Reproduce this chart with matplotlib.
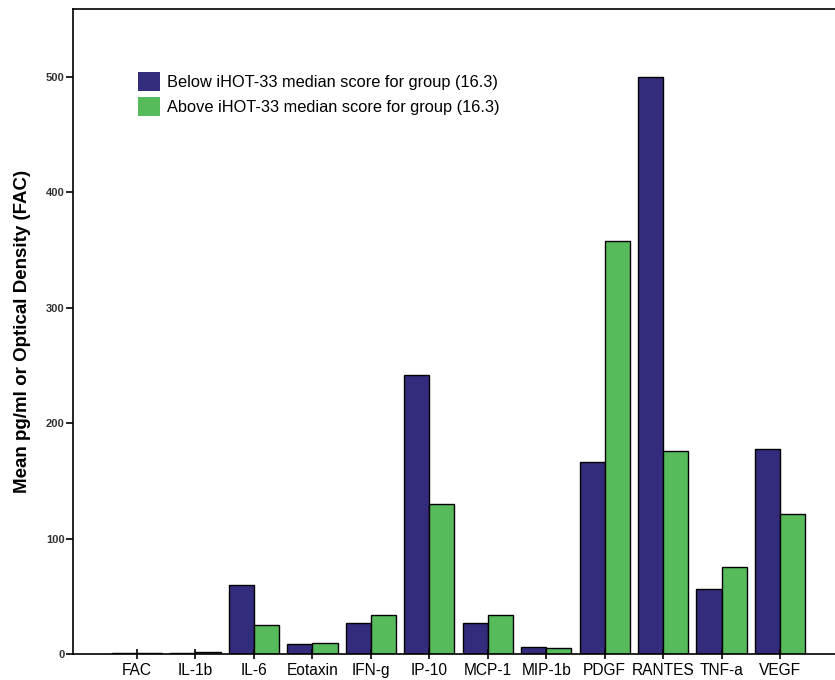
import numpy as np
from matplotlib import pyplot as plt

categories = ["FAC", "IL-1b", "IL-6", "Eotaxin", "IFN-g", "IP-10", "MCP-1",
              "MIP-1b", "PDGF", "RANTES", "TNF-a", "VEGF"]
below_median = [1.0, 1.0, 60, 8.5, 27, 242, 26.5, 6.5, 166, 500, 56, 178]
above_median = [1.0, 1.5, 25, 9.5, 34, 130, 34, 5, 358, 176, 75, 121]
labels = ["Below iHOT-33 median score for group (16.3)",
          "Above iHOT-33 median score for group (16.3)"]

plt.rcParams['font.family'] = ['Liberation Sans', 'DejaVu Sans']

fig = plt.figure(figsize=(8.35, 6.8), dpi=100)
ax = fig.add_axes([73 / 835, 26 / 680, 1 - 73 / 835, 645 / 680])

x = np.arange(len(categories))
w = 0.43
ax.bar(x - w / 2, below_median, w, color="#332c7c", edgecolor="black", linewidth=1, label=labels[0])
ax.bar(x + w / 2, above_median, w, color="#57bb5c", edgecolor="black", linewidth=1, label=labels[1])

ax.set_xlim(-1.095, 11.94)
ax.set_ylim(0, 559)
ax.set_xticks(x)
ax.set_xticklabels(categories, fontsize=11.2)
ax.set_yticks([0, 100, 200, 300, 400, 500])
ax.set_yticklabels(["0", "100", "200", "300", "400", "500"], fontsize=8, fontweight="bold", color="#333333")
ax.tick_params(axis="x", length=7, width=1.2, direction="inout", pad=3)
ax.tick_params(axis="y", length=5, width=1.2, pad=1)
for s in ["left", "bottom", "top"]:
    ax.spines[s].set_linewidth(1.2)
ax.spines["right"].set_visible(False)

ax.set_ylabel("Mean pg/ml or Optical Density (FAC)", fontsize=13.5, fontweight="bold", labelpad=11)

leg = ax.legend(loc="upper left", bbox_to_anchor=(0.0853, 0.902), frameon=False, fontsize=11.8,
                borderpad=0, borderaxespad=0, handlelength=1.35, handleheight=1.4,
                handletextpad=0.42, labelspacing=0.35)
for h in leg.legend_handles:
    h.set_edgecolor("none")

plt.savefig("out.png", dpi=100)
